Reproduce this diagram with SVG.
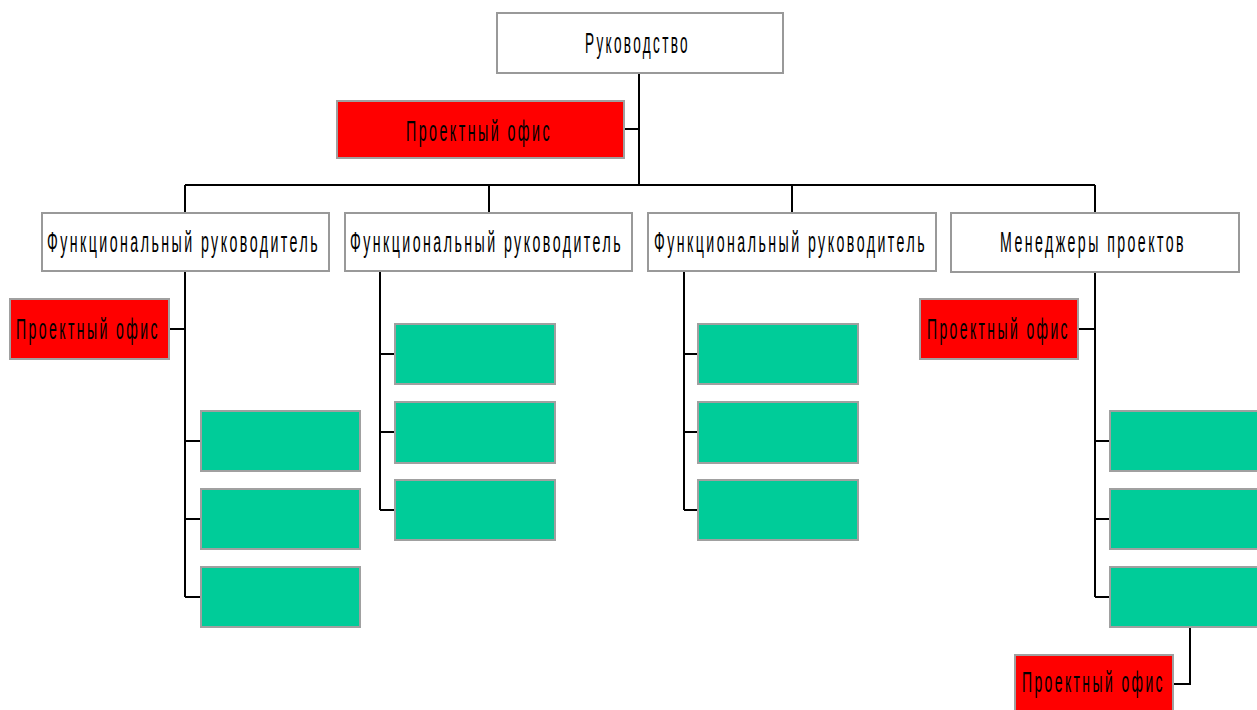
<svg xmlns="http://www.w3.org/2000/svg" width="1257" height="710" viewBox="0 0 1257 710">
<style>
.w{fill:#fff;stroke:#999;stroke-width:2}
.r{fill:#ff0000;stroke:#a0a0a0;stroke-width:2}
.g{fill:#00cc99;stroke:#a0a0a0;stroke-width:2}
.t{font-family:"Liberation Sans",Arial,sans-serif;font-size:29px;letter-spacing:5px;fill:#000}
.c{fill:none;stroke:#000;stroke-width:2}
</style>
<rect width="1257" height="710" fill="#fff"/>
<g id="connectors">
<path class="c" d="M639 73V185M624 129H639M185 185H1095M185 185V213M489 185V213M792 185V213M1095 185V213"/>
<path class="c" d="M185 271V597M169 329H185M185 441H201M185 519H201M185 597H201"/>
<path class="c" d="M380 271V510M380 354H395M380 432H395M380 510H395"/>
<path class="c" d="M684 271V510M684 354H698M684 432H698M684 510H698"/>
<path class="c" d="M1095 272V597M1078 329H1095M1095 441H1110M1095 519H1110M1095 597H1110"/>
<path class="c" d="M1190 627V684H1173"/>
</g>
<g id="top"><rect class="w" x="497" y="13" width="286" height="60"/><text class="t" x="585" y="53" textLength="105" lengthAdjust="spacingAndGlyphs">Руководство</text></g>
<g id="po-top"><rect class="r" x="337" y="101" width="287" height="57"/><text class="t" x="406" y="141" textLength="146" lengthAdjust="spacingAndGlyphs">Проектный офис</text></g>
<g id="fr1"><rect class="w" x="42" y="213" width="287" height="58"/><text class="t" x="47" y="252" textLength="273" lengthAdjust="spacingAndGlyphs">Функциональный руководитель</text></g>
<g id="fr2"><rect class="w" x="345" y="213" width="287" height="58"/><text class="t" x="350" y="252" textLength="273" lengthAdjust="spacingAndGlyphs">Функциональный руководитель</text></g>
<g id="fr3"><rect class="w" x="648" y="213" width="288" height="58"/><text class="t" x="654" y="252" textLength="273" lengthAdjust="spacingAndGlyphs">Функциональный руководитель</text></g>
<g id="pm"><rect class="w" x="951" y="213" width="288" height="59"/><text class="t" x="1000" y="252" textLength="186" lengthAdjust="spacingAndGlyphs">Менеджеры проектов</text></g>
<g id="po-left"><rect class="r" x="10" y="299" width="159" height="60"/><text class="t" x="16" y="339" textLength="144" lengthAdjust="spacingAndGlyphs">Проектный офис</text></g>
<g id="po-right"><rect class="r" x="920" y="299" width="158" height="60"/><text class="t" x="927" y="339" textLength="143" lengthAdjust="spacingAndGlyphs">Проектный офис</text></g>
<g id="po-bottom"><rect class="r" x="1015" y="655" width="158" height="60"/><text class="t" x="1022" y="692" textLength="143" lengthAdjust="spacingAndGlyphs">Проектный офис</text></g>
<g id="g1a"><rect class="g" x="201" y="411" width="159" height="60"/></g>
<g id="g1b"><rect class="g" x="201" y="489" width="159" height="60"/></g>
<g id="g1c"><rect class="g" x="201" y="567" width="159" height="60"/></g>
<g id="g2a"><rect class="g" x="395" y="324" width="160" height="60"/></g>
<g id="g2b"><rect class="g" x="395" y="402" width="160" height="61"/></g>
<g id="g2c"><rect class="g" x="395" y="480" width="160" height="60"/></g>
<g id="g3a"><rect class="g" x="698" y="324" width="160" height="60"/></g>
<g id="g3b"><rect class="g" x="698" y="402" width="160" height="61"/></g>
<g id="g3c"><rect class="g" x="698" y="480" width="160" height="60"/></g>
<g id="g4a"><rect class="g" x="1110" y="411" width="160" height="60"/></g>
<g id="g4b"><rect class="g" x="1110" y="489" width="160" height="60"/></g>
<g id="g4c"><rect class="g" x="1110" y="567" width="160" height="60"/></g>
</svg>
